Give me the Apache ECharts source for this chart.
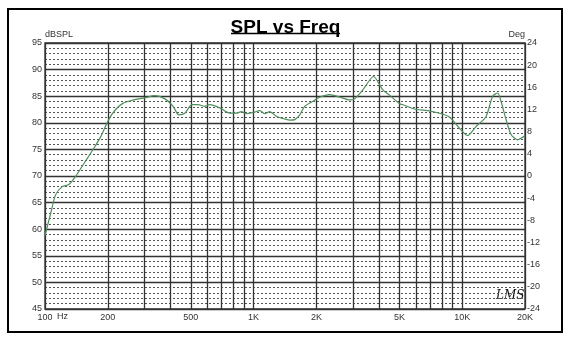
<!DOCTYPE html>
<html>
<head>
<meta charset="utf-8">
<script src="https://cdn.jsdelivr.net/npm/echarts@6/dist/echarts.min.js"></script>
<style>
  html, body { margin: 0; padding: 0; background: #fff; }
  #chart { width: 571px; height: 345px; }
</style>
</head>
<body>
<div id="chart"></div>
<script>
// Measured response: frequency (Hz) and sound pressure level (dB SPL)
const freqHz = [
  100, 106.5, 112.5, 121, 130, 140, 154, 172, 185, 202, 218, 237, 260, 301, 336, 376,
  411, 438, 468, 506, 541, 583, 615, 688, 769, 828, 874, 925, 996, 1072, 1131, 1193,
  1289, 1388, 1497, 1575, 1665, 1758, 1915, 2072, 2314, 2584, 2887, 3049, 3340, 3757,
  4164, 4483, 5005, 5190, 6017, 6836, 7778, 8684, 9696, 10625, 11657, 13016, 13996,
  14791, 15360, 16230, 17147, 18440, 20000
];
const splDb = [
  58.8, 63.0, 66.5, 68.0, 68.4, 69.9, 72.4, 75.3, 77.4, 80.6, 82.5, 83.7, 84.2, 84.7, 85.1, 84.5,
  83.1, 81.5, 81.8, 83.4, 83.4, 83.1, 83.4, 82.8, 81.8, 81.8, 82.1, 81.7, 81.95, 82.3, 81.7, 82.1,
  81.2, 80.8, 80.5, 80.6, 81.5, 83.1, 84.0, 84.8, 85.3, 84.85, 84.3, 84.5, 86.2, 88.7,
  86.2, 85.2, 83.6, 83.4, 82.5, 82.3, 81.8, 81.1, 79.0, 77.6, 79.3, 81.2, 85.0,
  85.6, 84.0, 80.6, 77.8, 76.8, 77.6
];

// Frequency grid lines and labelled frequencies
const gridFreqs = [100, 200, 300, 400, 500, 600, 700, 800, 900, 1000,
  2000, 3000, 4000, 5000, 6000, 7000, 8000, 9000, 10000, 20000];
const freqTickValues = [100, 200, 500, 1000, 2000, 5000, 10000, 20000];
const freqTickLabels = ['100', '200', '500', '1K', '2K', '5K', '10K', '20K'];

// Axis ranges
const splRange = [45, 95, 5];
const degRange = [-24, 24, 4];

const gridColor = '#333';
const labelFont = { fontFamily: 'Liberation Sans, Arial, sans-serif', fontSize: 9, color: '#333' };

const chart = echarts.init(document.getElementById('chart'));

chart.setOption({
  backgroundColor: '#fff',
  animation: false,
  title: {
    text: 'SPL vs Freq',
    left: 'center',
    top: 13,
    textStyle: { fontFamily: 'Liberation Sans, Arial, sans-serif', fontWeight: 'bold', fontSize: 19, color: '#000' }
  },
  grid: { left: 45, right: 46, top: 43, bottom: 36, show: true, borderColor: gridColor, borderWidth: 1.3 },
  xAxis: {
    type: 'log',
    logBase: 10,
    min: 100,
    max: 20000,
    axisLine: { show: false },
    axisTick: { show: false, customValues: gridFreqs },
    splitLine: { show: true, lineStyle: { color: gridColor, width: 1.3 } },
    minorSplitLine: { show: false },
    axisLabel: {
      customValues: freqTickValues,
      margin: 4,
      ...labelFont,
      formatter: v => freqTickLabels[freqTickValues.indexOf(Math.round(v))] ?? ''
    }
  },
  yAxis: [
    {
      type: 'value',
      position: 'left',
      min: splRange[0], max: splRange[1], interval: splRange[2],
      name: 'dBSPL',
      nameLocation: 'end',
      nameGap: 2,
      nameTextStyle: { ...labelFont, fontSize: 9, align: 'left', padding: [0, 0, 0, 0] },
      axisLine: { show: false },
      axisTick: { show: false },
      axisLabel: { margin: 3, ...labelFont },
      splitLine: { show: true, lineStyle: { color: gridColor, width: 1.3 } },
      minorTick: { show: false, splitNumber: 5 },
      minorSplitLine: { show: true, lineStyle: { color: '#555', width: 1, type: [2, 2] } }
    },
    {
      type: 'value',
      position: 'right',
      min: degRange[0], max: degRange[1], interval: degRange[2],
      name: 'Deg',
      nameLocation: 'end',
      nameGap: 2,
      nameTextStyle: { ...labelFont, fontSize: 9, align: 'right' },
      axisLine: { show: false },
      axisTick: { show: false },
      axisLabel: { margin: 2, ...labelFont },
      splitLine: { show: false }
    }
  ],
  series: [
    {
      type: 'line',
      name: 'SPL',
      yAxisIndex: 0,
      data: freqHz.map((f, i) => [f, splDb[i]]),
      showSymbol: false,
      smooth: 0.25,
      lineStyle: { color: '#4f8f5c', width: 1.2 },
      z: 5
    }
  ],
  graphic: [
    // outer frame
    { type: 'rect', shape: { x: 8, y: 9, width: 554, height: 323 }, style: { fill: 'none', stroke: '#000', lineWidth: 2 }, silent: true },
    // title underline
    { type: 'line', shape: { x1: 231, y1: 33.5, x2: 340, y2: 33.5 }, style: { stroke: '#000', lineWidth: 1.5 }, silent: true },
    // unit next to the first frequency label
    { type: 'text', left: 57, top: 312, style: { text: 'Hz', font: '9px Liberation Sans, Arial, sans-serif', fill: '#333' }, silent: true },
    // signature
    { type: 'text', left: 496, top: 290, style: { text: 'LMS', font: 'italic 12px DejaVu Serif, serif', fill: '#111' }, silent: true }
  ]
});
</script>
</body>
</html>
